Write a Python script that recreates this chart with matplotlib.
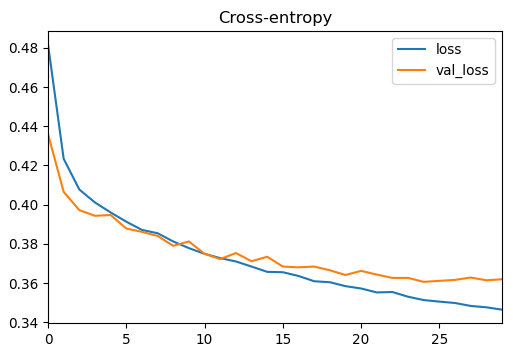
import matplotlib
matplotlib.use("Agg")
import matplotlib.pyplot as plt
import numpy as np

epochs = np.arange(30)

loss = [0.4818, 0.4234, 0.4077, 0.4011, 0.3960, 0.3913, 0.3871, 0.3854, 0.3812, 0.3778,
        0.3749, 0.3727, 0.3710, 0.3684, 0.3657, 0.3655, 0.3636, 0.3609, 0.3604, 0.3584,
        0.3572, 0.3552, 0.3554, 0.3530, 0.3513, 0.3505, 0.3498, 0.3483, 0.3476, 0.3464]

val_loss = [0.4360, 0.4065, 0.3972, 0.3943, 0.3947, 0.3878, 0.3861, 0.3840, 0.3790, 0.3812,
            0.3749, 0.3722, 0.3753, 0.3711, 0.3734, 0.3684, 0.3680, 0.3684, 0.3665, 0.3641,
            0.3662, 0.3643, 0.3626, 0.3626, 0.3606, 0.3611, 0.3616, 0.3628, 0.3614, 0.3619]

plt.rcParams["font.size"] = 9.8

fig = plt.figure(figsize=(5.13, 3.54), dpi=100)
ax = fig.add_axes([0.0936, 0.0876, 0.885, 0.8248])

ax.plot(epochs, loss, color="#1f77b4", label="loss")
ax.plot(epochs, val_loss, color="#ff7f0e", label="val_loss")
ax.set_xlim(0, 29)
ax.set_yticks([0.34, 0.36, 0.38, 0.40, 0.42, 0.44, 0.46, 0.48])
ax.set_ylim(0.3396, 0.4886)
ax.set_title("Cross-entropy")
ax.legend(loc="upper right")

fig.savefig("out.png", dpi=100)
plt.close()
